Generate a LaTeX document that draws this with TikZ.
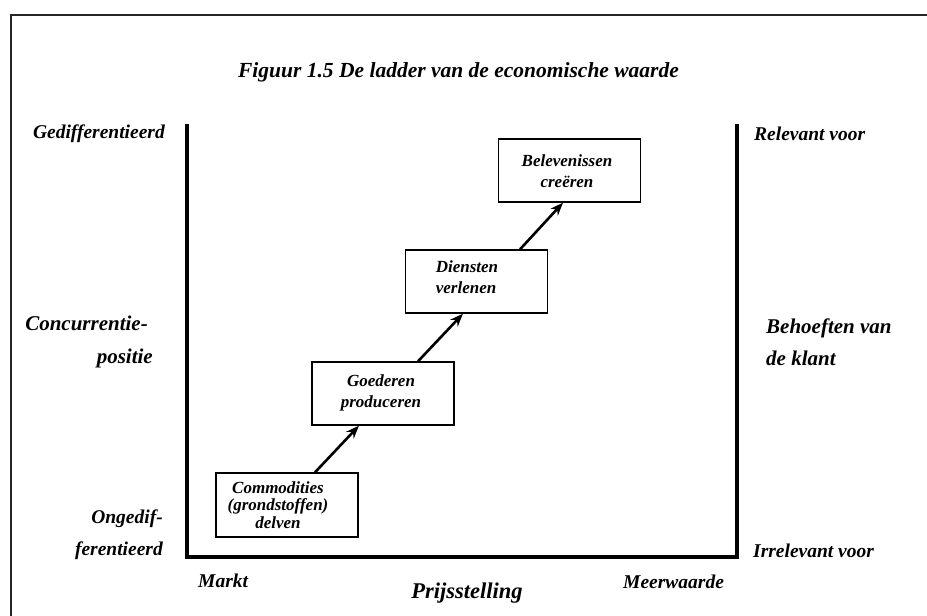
\documentclass[tikz,border=0pt]{standalone}
\usepackage{fontspec}
\setmainfont{Liberation Serif}
\usetikzlibrary{arrows.meta}
\begin{document}
\begin{tikzpicture}[x=1pt,y=-1pt,
  lbl/.style={font=\fontsize{19.5}{22}\selectfont\bfseries\itshape, inner sep=0pt},
  biglbl/.style={font=\fontsize{21}{24}\selectfont\bfseries\itshape, inner sep=0pt},
  titlef/.style={font=\fontsize{21.5}{25}\selectfont\bfseries\itshape, inner sep=0pt},
  boxtext/.style={font=\fontsize{17}{21}\selectfont\bfseries\itshape, inner sep=0pt, align=center},
  stagebox/.style={draw, line width=1.3pt, rectangle, inner sep=0pt, minimum width=142pt, minimum height=63pt},
  axisline/.style={line width=3.3pt, line cap=rect},
  frameline/.style={line width=2.6pt, black!85},
  arr/.style={line width=2.6pt, -{Stealth[length=13pt,width=10pt]}}
]
\useasboundingbox (0,0) rectangle (927,616);
% outer frame
\coordinate (f-tl) at (11,15);
\coordinate (f-tr) at (927,15);
\coordinate (f-bl) at (11,616);
\draw[frameline] (f-bl) -- (f-tl) -- (f-tr);

% title
\node[titlef, anchor=base] (title) at (458.5,77) {Figuur 1.5 De ladder van de economische waarde};

% axes
\coordinate (a-tl) at (187,126);
\coordinate (a-bl) at (187,557);
\coordinate (a-br) at (737,557);
\coordinate (a-tr) at (737,126);
\draw[axisline] (a-tl) -- (a-bl) -- (a-br) -- (a-tr);

% left labels
\node[lbl, anchor=base east] (gedif) at (165,138) {Gedifferentieerd};
\node[biglbl, anchor=base east] (conc1) at (148,330) {Concurrentie-};
\node[biglbl, anchor=base east] (conc2) at (153,363) {positie};
\node[lbl, anchor=base east] (onged1) at (163,523) {Ongedif-};
\node[lbl, anchor=base east] (onged2) at (163,555) {ferentieerd};

% right labels
\node[lbl, anchor=base west] (rel) at (754,140) {Relevant voor};
\node[biglbl, anchor=base west] (beh1) at (766,333) {Behoeften van};
\node[biglbl, anchor=base west] (beh2) at (766,365) {de klant};
\node[lbl, anchor=base west] (irrel) at (753,557) {Irrelevant voor};

% bottom labels
\node[lbl, anchor=base west] (markt) at (198,587) {Markt};
\node[lbl, anchor=base west] (meer) at (623,588) {Meerwaarde};
\node[biglbl, font=\fontsize{22.5}{26}\selectfont\bfseries\itshape, anchor=base] (prijs) at (467,598) {Prijsstelling};

% stage boxes
\node[stagebox, minimum height=64pt] (comm) at (287,505) {};
\node[stagebox] (goed) at (383,393.5) {};
\node[stagebox] (dien) at (476.5,281.5) {};
\node[stagebox] (bele) at (569.5,170.5) {};

\node[boxtext, font=\fontsize{17}{17.5}\selectfont\bfseries\itshape] (commt) at (278,505) {Commodities\\(grondstoffen)\\delven};
\node[boxtext] (goedt) at (381,392.5) {Goederen\\produceren};
\node[boxtext, align=left] (dient) at (467,277.5) {Diensten\\verlenen};
\node[boxtext] (belet) at (567,171.5) {Belevenissen\\creëren};

% arrows
\draw[arr] ([xshift=28pt]comm.north) -- ([xshift=-24pt]goed.south);
\draw[arr] ([xshift=35pt]goed.north) -- ([xshift=-13.5pt]dien.south);
\draw[arr] ([xshift=43.5pt]dien.north) -- ([xshift=-6.5pt]bele.south);
\end{tikzpicture}
\end{document}
